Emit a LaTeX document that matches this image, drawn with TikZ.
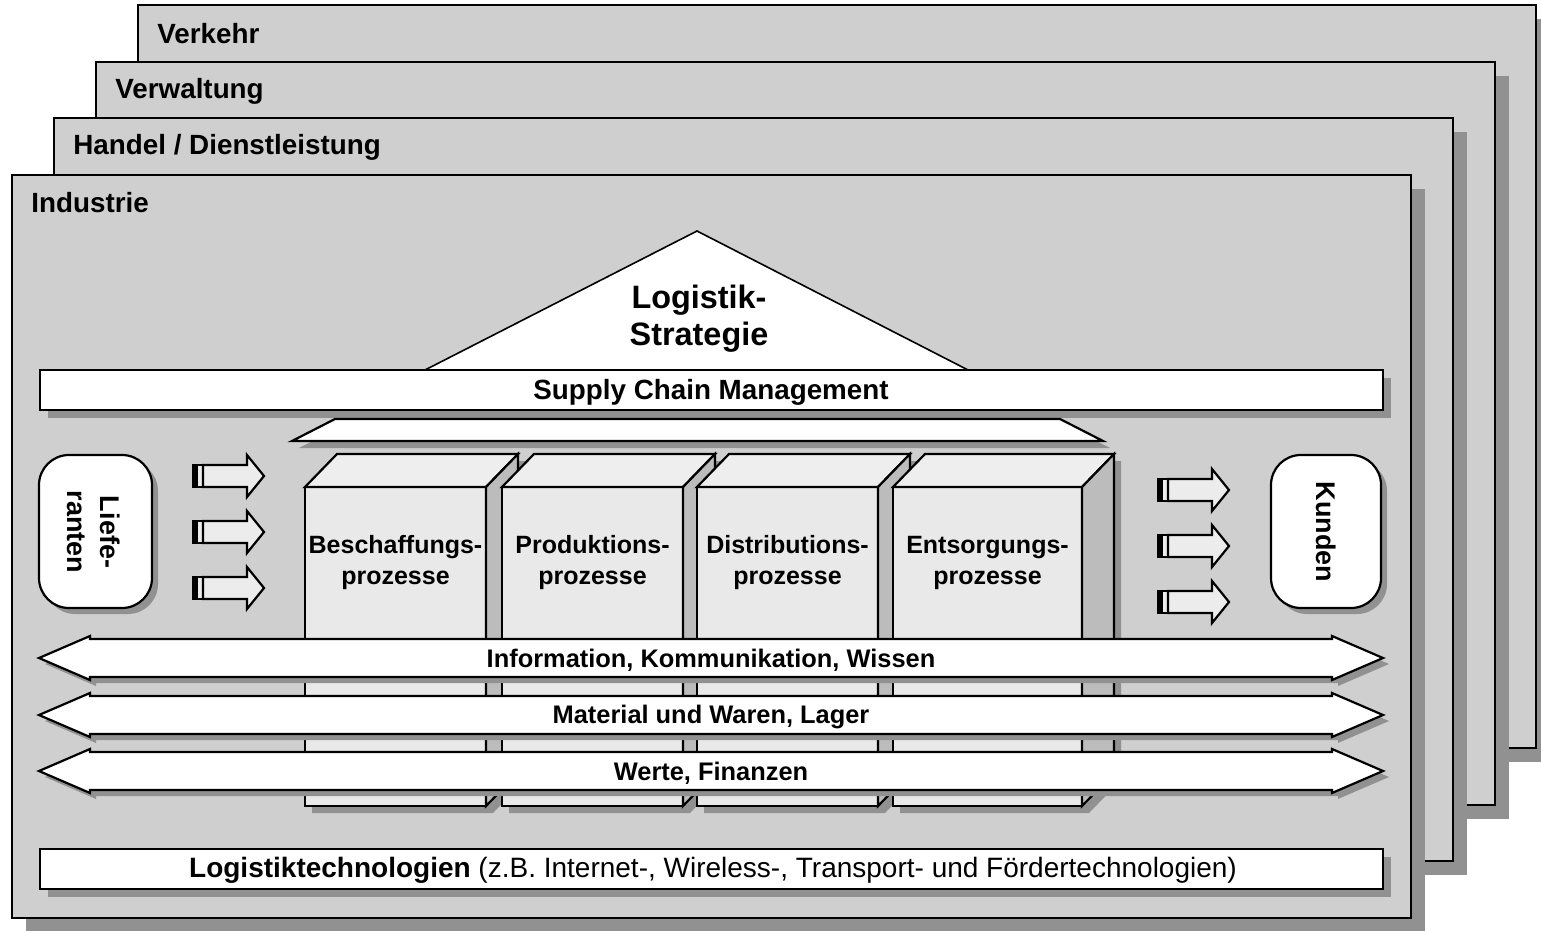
\documentclass[tikz,border=0pt]{standalone}
\usepackage{fontspec}
\setmainfont{Liberation Sans}
\definecolor{panelc}{RGB}{207,207,207}
\definecolor{shadowc}{RGB}{145,145,145}
\definecolor{boxfront}{RGB}{233,233,233}
\definecolor{boxtop}{RGB}{238,238,238}
\definecolor{boxside}{RGB}{188,188,188}
\definecolor{afill}{RGB}{236,236,236}
\tikzset{
  ln/.style={line width=1.1pt, draw=black, line join=miter},
  thinln/.style={line width=0.8pt, draw=black},
  lbl/.style={font=\fontsize{13.9}{16}\selectfont\bfseries, inner sep=0pt},
  vlbl/.style={font=\fontsize{13.5}{16.5}\selectfont\bfseries, inner sep=0pt, rotate=-90, align=center},
  boxtxt/.style={font=\fontsize{12.5}{15.5}\selectfont\bfseries, inner sep=0pt, align=center},
  arrtxt/.style={font=\fontsize{12.7}{15}\selectfont\bfseries, inner sep=0pt},
  tritxt/.style={font=\fontsize{16.2}{18.5}\selectfont\bfseries, inner sep=0pt, align=center},
}
\newcommand\mypanel[4]{% x1,y1,x2,y2
  \fill[shadowc] (#1+14,#2+14) rectangle (#3+14,#4+14);
  \filldraw[ln,fill=panelc] (#1,#2) rectangle (#3,#4);
}
\newcommand\procbox[4]{% xl, xr, name, text
  \fill[shadowc] (#1+7,494) -- (#1+39,461) -- (#2+39,461) -- (#2+39,780) -- (#2+7,813) -- (#1+7,813) -- cycle;
  \filldraw[ln,fill=boxfront] (#1,487) rectangle (#2,806);
  \filldraw[ln,fill=boxtop] (#1,487) -- (#1+32,454) -- (#2+32,454) -- (#2,487) -- cycle;
  \filldraw[ln,fill=boxside] (#2,487) -- (#2+32,454) -- (#2+32,773) -- (#2,806) -- cycle;
  \node[boxtxt] (#3) at ({(#1+#2)/2},563) {#4};
}
\newcommand\dblarr[3]{% y, name, text
  \fill[shadowc] (45,#1+6) -- (96,#1-16) -- (96,#1-13) -- (1338,#1-13) -- (1338,#1-16) -- (1389,#1+6) -- (1338,#1+28) -- (1338,#1+25) -- (96,#1+25) -- (96,#1+28) -- cycle;
  \filldraw[ln,fill=white] (39,#1) -- (90,#1-22) -- (90,#1-19) -- (1332,#1-19) -- (1332,#1-22) -- (1383,#1) -- (1332,#1+22) -- (1332,#1+19) -- (90,#1+19) -- (90,#1+22) -- cycle;
  \node[arrtxt] (#2) at (711,#1+2) {#3};
}
\newcommand\sarr[3]{% tail x, y, name
  \filldraw[ln,fill=afill] (#1,#2-11) rectangle (#1+10,#2+11);
  \fill[black] (#1,#2-11) rectangle (#1+5,#2+11);
  \filldraw[ln,fill=afill] (#1+10,#2-11) -- (#1+54,#2-11) -- (#1+54,#2-21) -- (#1+71,#2) -- (#1+54,#2+21) -- (#1+54,#2+11) -- (#1+10,#2+11) -- cycle;
  \coordinate (#3) at (#1,#2);
}
\begin{document}
\begin{tikzpicture}[x=0.5pt,y=-0.5pt]
\useasboundingbox (0,0) rectangle (1541,931);
% layered panels
\mypanel{138}{5}{1536}{748}
\node[lbl,anchor=west] (verkehr) at (157,34) {Verkehr};
\mypanel{96}{62}{1495}{805}
\node[lbl,anchor=west] (verwaltung) at (115,91) {Verwaltung};
\mypanel{54}{118}{1453}{861}
\node[lbl,anchor=west] (handel) at (73,147) {Handel / Dienstleistung};
\mypanel{12}{175}{1411}{918}
\node[lbl,anchor=west] (industrie) at (31,203) {Industrie};
% roof
\filldraw[thinln,fill=white] (425,370) -- (697,231) -- (968,370) -- cycle;
\node[tritxt] (strat) at (699,319) {Logistik-\\Strategie};
% SCM bar
\fill[shadowc] (48,378) rectangle (1391,418);
\filldraw[ln,fill=white] (40,370) rectangle (1383,410);
\node[lbl] (scm) at (711,392) {Supply Chain Management};
% trapezoid
\fill[shadowc] (342,426) -- (1067,426) -- (1110,448) -- (299,448) -- cycle;
\filldraw[ln,fill=white] (335,419) -- (1060,419) -- (1103,441) -- (292,441) -- cycle;
% suppliers / customers
\fill[shadowc, rounded corners=15] (45,461) rectangle (158,614);
\filldraw[ln,fill=white, rounded corners=15] (39,455) rectangle (152,608);
\node[vlbl] (lief) at (94,532) {Liefe-\\ranten};
\fill[shadowc, rounded corners=15] (1277,461) rectangle (1387,614);
\filldraw[ln,fill=white, rounded corners=15] (1271,455) rectangle (1381,608);
\node[vlbl] (kunden) at (1326,532) {Kunden};
% small arrows
\sarr{193}{476}{la1}
\sarr{193}{532}{la2}
\sarr{193}{588}{la3}
\sarr{1158}{490}{ra1}
\sarr{1158}{546}{ra2}
\sarr{1158}{602}{ra3}
% process boxes
\procbox{305}{486}{b1}{Beschaffungs-\\prozesse}
\procbox{502}{683}{b2}{Produktions-\\prozesse}
\procbox{697}{878}{b3}{Distributions-\\prozesse}
\procbox{893}{1082}{b4}{Entsorgungs-\\prozesse}
% flows
\dblarr{658}{info}{Information, Kommunikation, Wissen}
\dblarr{715}{mat}{Material und Waren, Lager}
\dblarr{771}{wert}{Werte, Finanzen}
% technology bar
\fill[shadowc] (48,857) rectangle (1391,897);
\filldraw[ln,fill=white] (40,849) rectangle (1383,889);
\node[font=\fontsize{14}{16}\selectfont, inner sep=0pt] (tech) at (713,870) {\textbf{Logistiktechnologien} (z.B. Internet-, Wireless-, Transport- und Fördertechnologien)};
\end{tikzpicture}
\end{document}
